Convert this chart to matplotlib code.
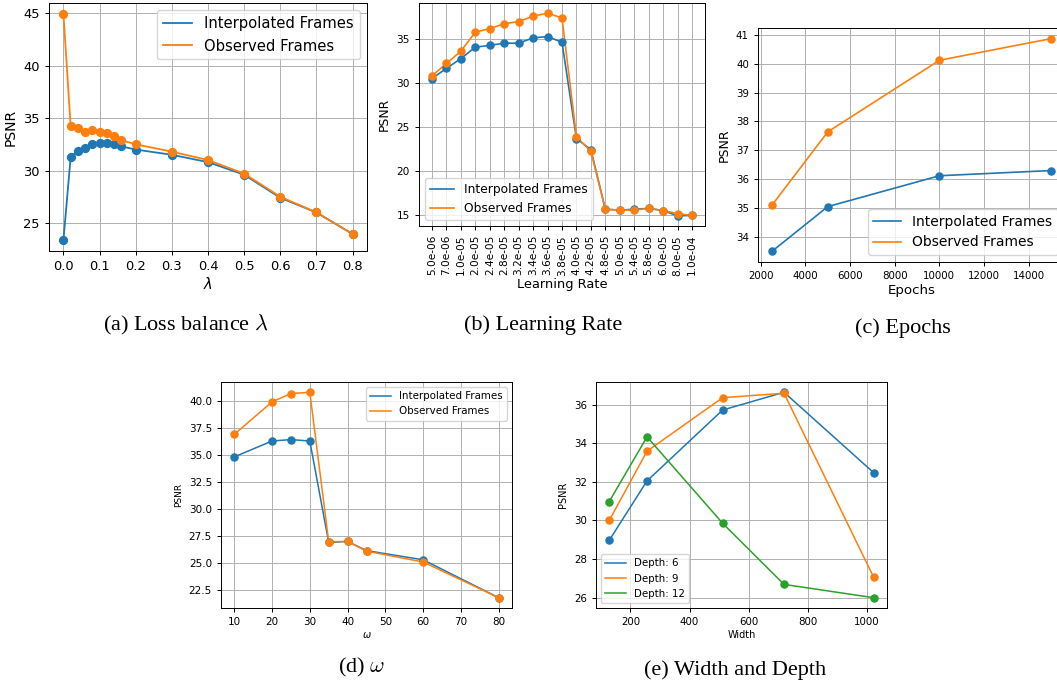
import matplotlib
matplotlib.use("Agg")
import matplotlib.pyplot as plt

# (a) loss balance lambda
lam = [0.0, 0.02, 0.04, 0.06, 0.08, 0.1, 0.12, 0.14, 0.16, 0.2, 0.3, 0.4, 0.5, 0.6, 0.7, 0.8]
lam_interp = [23.4, 31.3, 31.9, 32.1, 32.5, 32.6, 32.65, 32.5, 32.3, 32.0, 31.5, 30.8, 29.6, 27.4, 26.0, 23.95]
lam_obs = [44.9, 34.2, 34.1, 33.7, 33.85, 33.65, 33.6, 33.25, 32.9, 32.5, 31.8, 31.0, 29.7, 27.5, 26.0, 23.95]

# (b) learning rate
lr_labels = ["5.0e-06", "7.0e-06", "1.0e-05", "2.0e-05", "2.4e-05", "2.8e-05", "3.2e-05",
             "3.4e-05", "3.6e-05", "3.8e-05", "4.0e-05", "4.2e-05", "4.8e-05", "5.0e-05",
             "5.4e-05", "5.8e-05", "6.0e-05", "8.0e-05", "1.0e-04"]
lr_interp = [30.5, 31.65, 32.75, 34.05, 34.25, 34.5, 34.5, 35.1, 35.25, 34.6,
             23.7, 22.45, 15.7, 15.6, 15.7, 15.8, 15.55, 14.95, 15.0]
lr_obs = [30.8, 32.2, 33.6, 35.75, 36.15, 36.7, 36.95, 37.55, 37.9, 37.35,
          23.9, 22.25, 15.7, 15.6, 15.6, 15.8, 15.55, 15.2, 15.0]

# (c) epochs
epochs = [2500, 5000, 10000, 15000]
ep_interp = [33.5, 35.05, 36.12, 36.3]
ep_obs = [35.1, 37.64, 40.12, 40.87]

# (d) omega
omega = [10, 20, 25, 30, 35, 40, 45, 60, 80]
om_interp = [34.8, 36.27, 36.4, 36.27, 26.9, 27.0, 26.15, 25.3, 21.8]
om_obs = [36.88, 39.88, 40.65, 40.77, 26.97, 27.0, 26.1, 25.1, 21.8]

# (e) width and depth
widths = [128, 256, 512, 720, 1024]
depth6 = [28.97, 32.05, 35.72, 36.64, 32.47]
depth9 = [30.0, 33.59, 36.36, 36.59, 27.05]
depth12 = [30.98, 34.33, 29.86, 26.69, 26.0]

BLUE, ORANGE, GREEN = "#1f77b4", "#ff7f0e", "#2ca02c"
W, H = 1057, 687

fig = plt.figure(figsize=(W / 100, H / 100), dpi=100)


def box(l, t, r, b):
    return [l / W, 1 - b / H, (r - l) / W, (b - t) / H]


def series(ax, x, y, color, label, s, lw):
    ax.plot(x, y, color=color, lw=lw, label=label)
    ax.scatter(x, y, color=color, s=s, zorder=3)


def style(ax, tick, lw=0.7):
    ax.grid(True, color="#b0b0b0", lw=lw)
    ax.set_axisbelow(True)
    ax.tick_params(labelsize=tick, length=3, width=lw)
    for sp in ax.spines.values():
        sp.set_linewidth(lw)


# (a)
ax = fig.add_axes(box(49, 3, 367, 251))
series(ax, lam, lam_interp, BLUE, "Interpolated Frames", 32, 1.3)
series(ax, lam, lam_obs, ORANGE, "Observed Frames", 32, 1.3)
style(ax, 9.4)
ax.set_xticks([0, 0.1, 0.2, 0.3, 0.4, 0.5, 0.6, 0.7, 0.8])
ax.set_xlabel(r"$\lambda$", fontsize=10.5, labelpad=2)
ax.set_ylabel("PSNR", fontsize=10)
ax.legend(loc="upper right", fontsize=10.6)

# (b)
ax = fig.add_axes(box(419, 3, 705, 226))
xs = list(range(len(lr_labels)))
series(ax, xs, lr_interp, BLUE, "Interpolated Frames", 26, 1.2)
series(ax, xs, lr_obs, ORANGE, "Observed Frames", 26, 1.2)
style(ax, 7.6)
ax.set_xticks(xs)
ax.set_xticklabels(lr_labels, rotation=90)
ax.set_xlabel("Learning Rate", fontsize=9.4, labelpad=2)
ax.set_ylabel("PSNR", fontsize=8.9)
ax.legend(loc="lower left", fontsize=8.8)

# (c)
ax = fig.add_axes(box(758, 28, 1065, 262))
series(ax, epochs, ep_interp, BLUE, "Interpolated Frames", 26, 1.2)
series(ax, epochs, ep_obs, ORANGE, "Observed Frames", 26, 1.2)
style(ax, 7.4)
ax.set_xticks([2000, 4000, 6000, 8000, 10000, 12000, 14000])
ax.set_xlabel("Epochs", fontsize=9.6, labelpad=2)
ax.set_ylabel("PSNR", fontsize=9)
ax.legend(loc="lower right", fontsize=10)

# (d)
ax = fig.add_axes(box(221, 382, 512, 608))
series(ax, omega, om_interp, BLUE, "Interpolated Frames", 26, 1.1)
series(ax, omega, om_obs, ORANGE, "Observed Frames", 26, 1.1)
style(ax, 7.5)
ax.set_xlabel(r"$\omega$", fontsize=7, labelpad=2)
ax.set_ylabel("PSNR", fontsize=6.5)
ax.legend(loc="upper right", fontsize=7.4)

# (e)
ax = fig.add_axes(box(596, 382, 887, 608))
series(ax, widths, depth6, BLUE, "Depth: 6", 26, 1.1)
series(ax, widths, depth9, ORANGE, "Depth: 9", 26, 1.1)
series(ax, widths, depth12, GREEN, "Depth: 12", 26, 1.1)
style(ax, 7.4)
ax.set_xlabel("Width", fontsize=7, labelpad=2)
ax.set_ylabel("PSNR", fontsize=7)
ax.legend(loc="lower left", fontsize=7.4)

# captions
cap = dict(ha="center", va="center", fontsize=16, family="Liberation Serif", math_fontfamily="cm")
fig.text(186 / W, 1 - 325 / H, r"(a) Loss balance $\lambda$", **cap)
fig.text(543 / W, 1 - 325 / H, "(b) Learning Rate", **cap)
fig.text(903 / W, 1 - 328 / H, "(c) Epochs", **cap)
fig.text(362 / W, 1 - 667 / H, r"(d) $\omega$", **cap)
fig.text(735 / W, 1 - 670 / H, "(e) Width and Depth", **cap)

fig.savefig("out.png", dpi=100)
